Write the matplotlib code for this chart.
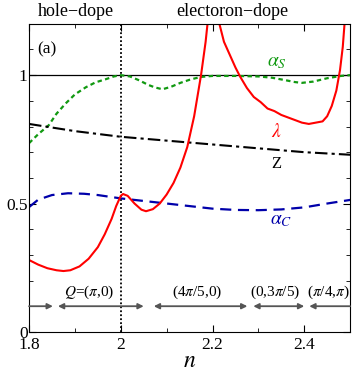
import numpy as np
import matplotlib
matplotlib.use('Agg')
import matplotlib.pyplot as plt
from matplotlib.ticker import MultipleLocator

plt.rcParams['font.family'] = ['Liberation Serif', 'DejaVu Serif']
plt.rcParams['mathtext.fontset'] = 'stix'

# alpha_S (green dotted)
n_as = [1.80, 1.82, 1.843, 1.86, 1.88, 1.90, 1.924, 1.945, 1.967, 1.985, 2.00, 2.02, 2.04, 2.06, 2.075,
        2.091, 2.11, 2.13, 2.15, 2.174, 2.20, 2.25, 2.30, 2.33, 2.36, 2.38, 2.395, 2.42, 2.45, 2.48, 2.50]
a_s = [0.735, 0.77, 0.805, 0.85, 0.89, 0.925, 0.953, 0.972, 0.984, 0.995, 1.0, 0.995, 0.98, 0.962, 0.952,
       0.945, 0.955, 0.97, 0.982, 0.993, 0.997, 0.997, 0.995, 0.99, 0.98, 0.973, 0.97, 0.975, 0.988, 0.997, 1.0]

# Z (black dash-dot)
n_z = [1.80, 1.90, 2.00, 2.10, 2.20, 2.30, 2.40, 2.50]
z = [0.81, 0.782, 0.76, 0.745, 0.73, 0.715, 0.70, 0.69]

# alpha_C (blue dashed)
n_ac = [1.80, 1.82, 1.85, 1.885, 1.92, 1.95, 2.00, 2.05, 2.10, 2.15, 2.20, 2.25, 2.30, 2.35, 2.40, 2.45, 2.50]
a_c = [0.486, 0.515, 0.533, 0.54, 0.538, 0.533, 0.52, 0.51, 0.50, 0.49, 0.48, 0.475, 0.474, 0.477, 0.485, 0.50, 0.514]

# lambda (red solid)
n_lam = [1.800, 1.820, 1.840, 1.860, 1.875, 1.890, 1.910, 1.930, 1.950, 1.965, 1.980, 1.990, 2.000, 2.005,
         2.015, 2.030, 2.045, 2.055, 2.070, 2.085, 2.100, 2.115, 2.130, 2.145, 2.160, 2.175, 2.185, 2.195,
         2.205, 2.215, 2.225, 2.235, 2.250, 2.260, 2.275, 2.290, 2.305, 2.320, 2.335, 2.350, 2.365, 2.380,
         2.395, 2.410, 2.425, 2.440, 2.450, 2.460, 2.470, 2.478, 2.484, 2.490]
lam = [0.280, 0.262, 0.248, 0.240, 0.237, 0.240, 0.255, 0.285, 0.330, 0.380, 0.440, 0.490, 0.530, 0.537,
       0.530, 0.500, 0.476, 0.470, 0.478, 0.500, 0.535, 0.580, 0.640, 0.720, 0.840, 1.000, 1.130, 1.300,
       1.350, 1.200, 1.130, 1.090, 1.030, 0.995, 0.950, 0.915, 0.895, 0.870, 0.860, 0.845, 0.835, 0.825,
       0.815, 0.810, 0.815, 0.820, 0.840, 0.880, 0.940, 1.020, 1.110, 1.250]

# nesting vector regions
q_ranges = [(1.80, 1.852), (1.863, 2.05), (2.072, 2.276), (2.289, 2.40), (2.411, 2.50)]
q_labels = [r'$Q$=($\pi$,0)', r'(4$\pi$/5,0)', r'(0,3$\pi$/5)', r'($\pi$/4,$\pi$)']
q_label_x = [1.93, 2.167, 2.337, 2.452]

fig = plt.figure(figsize=(3.54, 3.78), dpi=100)
ax = fig.add_axes([0.082, 0.122, 0.907, 0.815])

ax.axhline(1.0, color='black', lw=0.9)
ax.axvline(2.0, color='black', lw=1.3, linestyle=(0, (1, 1.2)))

ax.plot(n_as, a_s, color='#119911', lw=1.6, linestyle=(0, (2, 1.5)))
ax.plot(n_z, z, color='black', lw=1.5, linestyle=(0, (6, 2, 1.5, 2)))
ax.plot(n_ac, a_c, color='#0000aa', lw=1.6, linestyle=(0, (5, 3)))
ax.plot(n_lam, lam, color='red', lw=1.5)

# arrows
for i, (a, b) in enumerate(q_ranges):
    if i == 0:
        style, xy, xyt = '-|>', (b, 0.1), (a, 0.1)
    elif i == len(q_ranges) - 1:
        style, xy, xyt = '-|>', (a, 0.1), (b, 0.1)
    else:
        style, xy, xyt = '<|-|>', (b, 0.1), (a, 0.1)
    ax.annotate('', xy=xy, xytext=xyt,
                arrowprops=dict(arrowstyle=style, color='#555555', lw=1.3,
                                mutation_scale=8, shrinkA=0, shrinkB=0))
for lx, lt in zip(q_label_x, q_labels):
    ax.text(lx, 0.155, lt, ha='center', va='center', fontsize=11)

ax.text(2.34, 1.05, r'$\alpha_S$', color='#119911', fontsize=14, ha='center', va='center')
ax.text(2.34, 0.78, r'$\lambda$', color='red', fontsize=14, ha='center', va='center')
ax.text(2.34, 0.655, 'Z', color='black', fontsize=12, ha='center', va='center')
ax.text(2.35, 0.435, r'$\alpha_C$', color='#0000aa', fontsize=14, ha='center', va='center')
ax.text(1.817, 1.1, '(a)', fontsize=12.5, ha='left', va='center')

tr = ax.get_xaxis_transform()
ax.text(1.902, 1.04, 'hole\u2212dope', transform=tr, fontsize=13, ha='center', va='center')
ax.text(2.243, 1.04, 'electoron\u2212dope', transform=tr, fontsize=13, ha='center', va='center')

ax.set_xlim(1.8, 2.5)
ax.set_ylim(0, 1.2)
ax.set_xticks([1.8, 2.0, 2.2, 2.4])
ax.set_xticklabels(['1.8', '2', '2.2', '2.4'])
ax.set_yticks([0, 0.5, 1.0])
ax.set_yticklabels(['0', '0.5', '1'])
ax.xaxis.set_minor_locator(MultipleLocator(0.1))
ax.yaxis.set_minor_locator(MultipleLocator(0.1))
ax.tick_params(which='both', direction='in', top=True, right=True, labelsize=12.5)
ax.tick_params(axis='y', pad=1)
ax.tick_params(axis='x', pad=4)
ax.tick_params(which='major', length=5)
ax.tick_params(which='minor', length=3)
ax.set_xlabel(r'$n$', fontsize=17, labelpad=-2)

fig.savefig('out.png', dpi=100)
